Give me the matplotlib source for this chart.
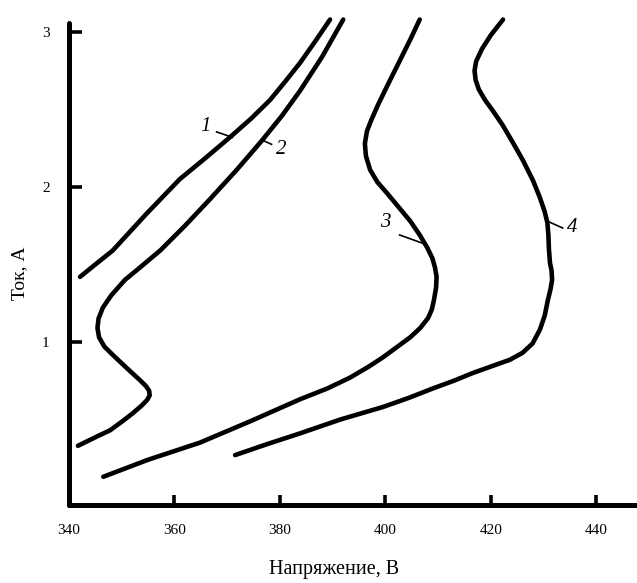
import matplotlib
matplotlib.use('Agg')
import matplotlib.pyplot as plt

plt.rcParams['font.family'] = ['Liberation Serif', 'DejaVu Serif']

# вольт-амперные характеристики, точки (напряжение, В; ток, А)
curve1 = [(342.1, 1.42), (345.0, 1.50), (348.3, 1.59), (354.5, 1.82), (361.0, 2.05),
          (366.0, 2.19), (370.5, 2.32), (374.5, 2.44), (378.1, 2.56), (381.0, 2.68),
          (383.8, 2.80), (386.7, 2.94), (389.5, 3.08)]

curve2 = [(341.7, 0.33), (345.3, 0.39), (347.8, 0.43), (350.2, 0.49), (352.1, 0.54),
          (353.8, 0.59), (354.8, 0.625), (355.3, 0.655), (355.2, 0.685), (354.6, 0.715),
          (353.4, 0.755), (351.0, 0.83), (348.5, 0.91), (346.7, 0.97), (345.7, 1.03),
          (345.4, 1.09), (345.6, 1.15), (346.4, 1.22), (348.0, 1.30), (350.6, 1.40),
          (353.8, 1.49), (357.3, 1.59), (362.0, 1.75), (366.7, 1.92), (371.8, 2.11),
          (376.6, 2.30), (380.4, 2.46), (383.8, 2.62), (388.0, 2.84), (392.0, 3.08)]

curve3 = [(346.5, 0.13), (355.0, 0.24), (364.8, 0.35), (374.5, 0.49), (383.8, 0.63),
          (389.0, 0.70), (393.3, 0.77), (396.8, 0.84), (399.5, 0.90), (402.3, 0.97),
          (404.7, 1.03), (406.6, 1.09), (408.1, 1.155), (408.8, 1.21), (409.2, 1.27),
          (409.6, 1.35), (409.7, 1.42), (409.4, 1.48), (408.9, 1.54), (407.9, 1.61),
          (406.5, 1.69), (404.7, 1.78), (402.5, 1.87), (400.3, 1.96), (398.5, 2.03),
          (397.1, 2.11), (396.3, 2.20), (396.1, 2.28), (396.5, 2.36), (397.3, 2.43),
          (398.6, 2.53), (400.6, 2.67), (402.8, 2.82), (404.7, 2.95), (406.5, 3.08)]

curve4 = [(371.5, 0.27), (377.5, 0.34), (383.8, 0.41), (391.5, 0.50), (399.5, 0.58),
          (404.5, 0.64), (409.0, 0.70), (413.0, 0.75), (416.6, 0.80), (420.3, 0.845),
          (423.6, 0.885), (426.0, 0.93), (427.9, 0.99), (429.3, 1.08), (430.2, 1.17),
          (430.8, 1.27), (431.3, 1.34), (431.6, 1.40), (431.5, 1.46), (431.2, 1.51),
          (431.0, 1.60), (430.9, 1.69), (430.7, 1.77), (430.2, 1.84), (429.3, 1.93),
          (428.0, 2.04), (426.1, 2.17), (424.1, 2.29), (422.2, 2.40), (420.4, 2.49),
          (418.9, 2.56), (417.7, 2.63), (417.1, 2.69), (416.9, 2.75), (417.2, 2.81),
          (418.3, 2.89), (420.0, 2.98), (422.3, 3.08)]

curves = [curve1, curve2, curve3, curve4]

# номера кривых: подпись и выноска (от кривой к подписи)
labels = ['1', '2', '3', '4']
label_xy = [(365.8, 2.39), (380.2, 2.24), (399.9, 1.77), (435.4, 1.74)]
leader_from = [(371.0, 2.32), (376.8, 2.30), (407.6, 1.63), (431.0, 1.775)]
leader_to = [(368.0, 2.355), (378.4, 2.275), (402.7, 1.69), (433.6, 1.735)]

xticks = [340, 360, 380, 400, 420, 440]
yticks = [1, 2, 3]

fig = plt.figure(figsize=(6.37, 5.83), dpi=100)
ax = fig.add_axes([0.1083, 0.1338, 0.8917, 0.838])

for pts in curves:
    u, i = zip(*pts)
    ax.plot(u, i, color='black', lw=3.3,
            solid_capstyle='round', solid_joinstyle='round')

for text, (lx, ly), (fx, fy), (tx, ty) in zip(labels, label_xy, leader_from, leader_to):
    ax.plot([fx, tx], [fy, ty], color='black', lw=1.2)
    ax.text(lx, ly, text, fontsize=15, style='italic', ha='center', va='center')

ax.set_xlim(340, 447.7)
ax.set_ylim(-0.052, 3.1)

for side in ['top', 'right']:
    ax.spines[side].set_visible(False)
for side in ['left', 'bottom']:
    ax.spines[side].set_linewidth(3.6)
    ax.spines[side].set_capstyle('round')
ax.spines['left'].set_bounds(-0.052, 3.06)

ax.set_xticks(xticks)
ax.set_yticks(yticks)
ax.tick_params(axis='x', direction='in', length=7, width=2.6, pad=14, labelsize=11)
ax.tick_params(axis='y', direction='in', length=9.5, width=2.6, pad=14, labelsize=11)

ax.set_xlabel('Напряжение, В', fontsize=14.5)
ax.set_ylabel('Ток, А', fontsize=14)
ax.xaxis.set_label_coords(0.4665, -0.112)
ax.yaxis.set_label_coords(-0.072, 0.475)

fig.savefig('out.png', dpi=100)
